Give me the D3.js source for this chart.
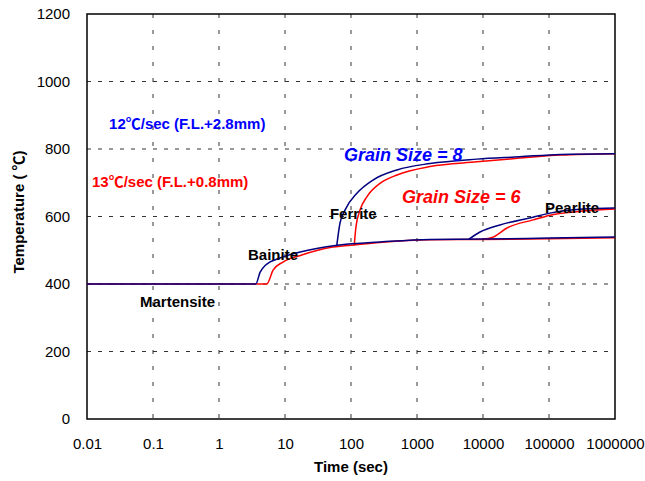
<!DOCTYPE html>
<html>
<head>
<meta charset="utf-8">
<script src="https://cdn.jsdelivr.net/npm/d3@7"></script>
<style>
  body { margin: 0; background: #fff; }
  svg { display: block; font-family: "Liberation Sans", Arial, "Noto Sans CJK JP", sans-serif; }
</style>
</head>
<body>
<svg id="chart"></svg>
<script>
// time (sec) and temperature (C)
var blueLowerTime = [0.01, 3.6, 4.2, 5, 8.4, 17, 62, 300, 1580, 10000, 100000, 1000000]
var blueLowerTemp = [400, 400, 435, 455, 477, 495, 515, 525, 532, 533, 536, 539]
var redLowerTime = [0.01, 5.3, 6.6, 9.3, 18, 48, 100, 300, 1580, 10000, 100000, 1000000]
var redLowerTemp = [400, 400, 441, 465, 486, 508, 515, 524, 531, 532, 534, 537]

var blueFerriteTime = [61, 68, 81, 123, 215, 498, 1574, 8110, 36000, 148000, 1000000]
var blueFerriteTemp = [515, 580, 619, 669, 708, 738, 757, 770, 777, 784, 786]
var redFerriteTime = [112, 119, 137, 175, 275, 498, 1574, 8110, 36000, 148000, 1000000]
var redFerriteTemp = [514, 570, 619, 659, 698, 723, 748, 762, 773, 782, 786]

var bluePearliteTime = [6140, 9010, 18100, 57300, 103500, 327000, 1000000]
var bluePearliteTemp = [533, 554, 575, 598, 610, 622, 625]
var redPearliteTime = [9660, 14200, 23100, 57300, 103500, 327000, 1000000]
var redPearliteTemp = [533, 539, 566, 590, 604, 616, 622]

var xTicks = [0.01, 0.1, 1, 10, 100, 1000, 10000, 100000, 1000000]
var xTickLabels = ["0.01", "0.1", "1", "10", "100", "1000", "10000", "100000", "1000000"]
var yTicks = [0, 200, 400, 600, 800, 1000, 1200]

var labelText = ["12\u2103/sec (F.L.+2.8mm)", "13\u2103/sec (F.L.+0.8mm)", "Grain Size = 8", "Grain Size = 6",
                 "Ferrite", "Bainite", "Martensite", "Pearlite"]
var labelTime = [0.0216, 0.0119, 78, 590, 48, 2.75, 0.0635, 86900]
var labelTemp = [859, 687, 764, 640, 593, 471, 332, 610]
var labelKind = ["blue", "red", "blueBig", "redBig", "note", "note", "note", "note"]

var dimensions = {
    width: 645,
    height: 481,
    margin: { top: 14, bottom: 62, right: 30, left: 87 }
}

var svg = d3.select("#chart")
    .attr("width", dimensions.width)
    .attr("height", dimensions.height)

var xScale = d3.scaleLog()
    .domain([0.01, 1000000])
    .range([dimensions.margin.left, dimensions.width - dimensions.margin.right])

var yScale = d3.scaleLinear()
    .domain([0, 1200])
    .range([dimensions.height - dimensions.margin.bottom, dimensions.margin.top])

var plotBottom = dimensions.height - dimensions.margin.bottom
var plotRight = dimensions.width - dimensions.margin.right

// grid
svg.append("g")
    .selectAll("line")
    .data(yTicks.slice(1, -1))
    .enter()
    .append("line")
    .attr("x1", dimensions.margin.left)
    .attr("x2", plotRight)
    .attr("y1", d => yScale(d))
    .attr("y2", d => yScale(d))
    .attr("stroke", "#333")
    .attr("stroke-width", 1)
    .attr("stroke-dasharray", "4,7")

svg.append("g")
    .selectAll("line")
    .data(xTicks.slice(1, -1))
    .enter()
    .append("line")
    .attr("x1", d => xScale(d))
    .attr("x2", d => xScale(d))
    .attr("y1", dimensions.margin.top)
    .attr("y2", plotBottom)
    .attr("stroke", "#333")
    .attr("stroke-width", 1)
    .attr("stroke-dasharray", "4,12")

// axes
var xAxisGen = d3.axisBottom(xScale)
    .tickValues(xTicks)
    .tickSize(0)
    .tickPadding(19)
    .tickFormat((d, i) => xTickLabels[i])

var yAxisGen = d3.axisLeft(yScale)
    .tickValues(yTicks)
    .tickSize(0)
    .tickPadding(17)
    .tickFormat(d3.format("d"))

svg.append("g")
    .attr("transform", "translate(0," + plotBottom + ")")
    .call(xAxisGen)
    .call(g => g.select(".domain").remove())
    .selectAll("text")
    .attr("fill", "#000")
    .style("font-size", "15px")

svg.append("g")
    .attr("transform", "translate(" + dimensions.margin.left + ",0)")
    .call(yAxisGen)
    .call(g => g.select(".domain").remove())
    .selectAll("text")
    .attr("fill", "#000")
    .style("font-size", "15px")

// frame
svg.append("rect")
    .attr("x", dimensions.margin.left)
    .attr("y", dimensions.margin.top)
    .attr("width", plotRight - dimensions.margin.left)
    .attr("height", plotBottom - dimensions.margin.top)
    .attr("fill", "none")
    .attr("stroke", "#000")
    .attr("stroke-width", 1.5)

svg.append("text")
    .attr("x", (dimensions.margin.left + plotRight) / 2)
    .attr("y", 472)
    .attr("text-anchor", "middle")
    .style("font-size", "15px")
    .style("font-weight", "bold")
    .text("Time (sec)")

svg.append("text")
    .attr("transform", "translate(24," + 212 + ") rotate(-90)")
    .attr("text-anchor", "middle")
    .style("font-size", "15px")
    .style("font-weight", "bold")
    .text("Temperature ( \u2103)")

// curves
var line = d3.line()
    .x(d => xScale(d[0]))
    .y(d => yScale(d[1]))
    .curve(d3.curveMonotoneX)

function pairs(times, temps) {
    return times.map((t, i) => [t, temps[i]])
}

var series = [
    { pts: pairs(redLowerTime, redLowerTemp), color: "#ff0000" },
    { pts: pairs(redFerriteTime, redFerriteTemp), color: "#ff0000" },
    { pts: pairs(redPearliteTime, redPearliteTemp), color: "#ff0000" },
    { pts: pairs(blueLowerTime, blueLowerTemp), color: "#000080" },
    { pts: pairs(blueFerriteTime, blueFerriteTemp), color: "#000080" },
    { pts: pairs(bluePearliteTime, bluePearliteTemp), color: "#000080" }
]

svg.append("g")
    .selectAll("path")
    .data(series)
    .enter()
    .append("path")
    .attr("d", d => line(d.pts))
    .attr("fill", "none")
    .attr("stroke", d => d.color)
    .attr("stroke-width", 1.5)

// annotations
var kindStyle = {
    blue: { fill: "#0000ff", size: "15px", italic: false },
    red: { fill: "#ff0000", size: "15px", italic: false },
    blueBig: { fill: "#0000ff", size: "18px", italic: true },
    redBig: { fill: "#ff0000", size: "18px", italic: true },
    note: { fill: "#000", size: "15px", italic: false }
}

svg.append("g")
    .selectAll("text")
    .data(labelText)
    .enter()
    .append("text")
    .attr("x", (d, i) => xScale(labelTime[i]))
    .attr("y", (d, i) => yScale(labelTemp[i]))
    .attr("fill", (d, i) => kindStyle[labelKind[i]].fill)
    .style("font-size", (d, i) => kindStyle[labelKind[i]].size)
    .style("font-style", (d, i) => kindStyle[labelKind[i]].italic ? "italic" : "normal")
    .style("font-weight", "bold")
    .text(d => d)
</script>
</body>
</html>
